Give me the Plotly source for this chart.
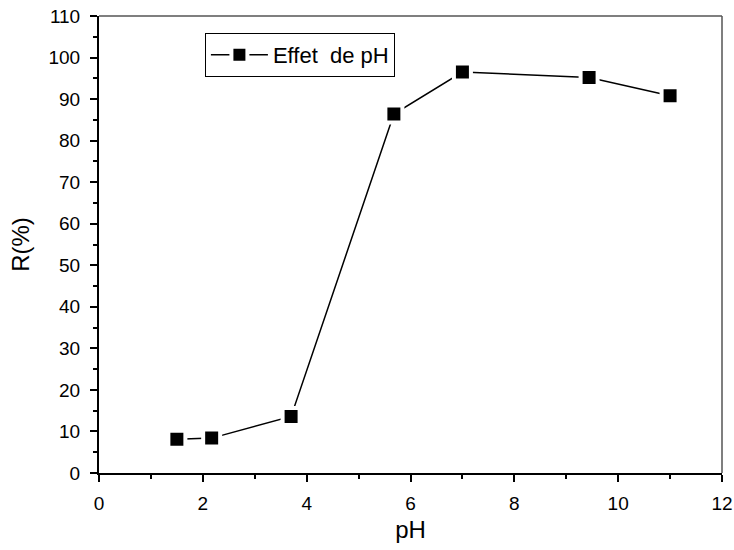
import plotly.graph_objects as go

ph = [1.5, 2.17, 3.7, 5.68, 7.0, 9.44, 11.0]
r_pct = [8.1, 8.4, 13.6, 86.4, 96.5, 95.2, 90.8]
series_name = "Effet  de pH"
x_ticks = [0, 2, 4, 6, 8, 10, 12]
y_ticks = list(range(0, 111, 10))

fig = go.Figure()
fig.add_trace(go.Scatter(
    x=ph, y=r_pct, mode="lines+markers", name=series_name,
    line=dict(color="black", width=1.5),
    marker=dict(symbol="square", size=17, color="black",
                line=dict(color="white", width=4)),
))

font = "Liberation Sans, Arial, sans-serif"
fig.update_layout(
    width=734, height=550,
    margin=dict(l=99, r=12, t=16, b=77),
    paper_bgcolor="white", plot_bgcolor="white",
    font=dict(family=font, size=19, color="black"),
    showlegend=True,
    legend=dict(x=0.17, y=0.963, xanchor="left", yanchor="top",
                bordercolor="black", borderwidth=1, bgcolor="white",
                font=dict(size=22), itemwidth=57),
    shapes=[
        dict(type="line", xref="paper", yref="paper", x0=0, x1=1, y0=1, y1=1,
             line=dict(color="#555555", width=1.5)),
        dict(type="line", xref="paper", yref="paper", x0=1, x1=1, y0=0, y1=1,
             line=dict(color="#555555", width=1.5)),
    ],
)
fig.update_xaxes(
    range=[0, 12], tickvals=x_ticks, automargin=False,
    ticks="outside", ticklen=7, tickwidth=1.5, tickcolor="black",
    ticklabelstandoff=5,
    minor=dict(tickvals=[1, 3, 5, 7, 9, 11], ticks="outside", ticklen=4,
               tickwidth=1.5, tickcolor="black"),
    showline=True, linecolor="black", linewidth=2, mirror=False,
    showgrid=False, zeroline=False,
    title=dict(text="pH", font=dict(size=24), standoff=8),
    tickfont=dict(size=19),
)
fig.update_yaxes(
    range=[0, 110], tickvals=y_ticks, automargin=False,
    ticks="outside", ticklen=7, tickwidth=1.5, tickcolor="black",
    ticklabelstandoff=6,
    minor=dict(tickvals=list(range(5, 110, 10)), ticks="outside", ticklen=4,
               tickwidth=1.5, tickcolor="black"),
    showline=True, linecolor="black", linewidth=2, mirror=False,
    showgrid=False, zeroline=False,
    title=dict(text="R(%)", font=dict(size=24), standoff=12),
    tickfont=dict(size=19),
)
fig.write_html("out.html", config={"displayModeBar": False},
               post_script="document.body.style.margin='0';")
